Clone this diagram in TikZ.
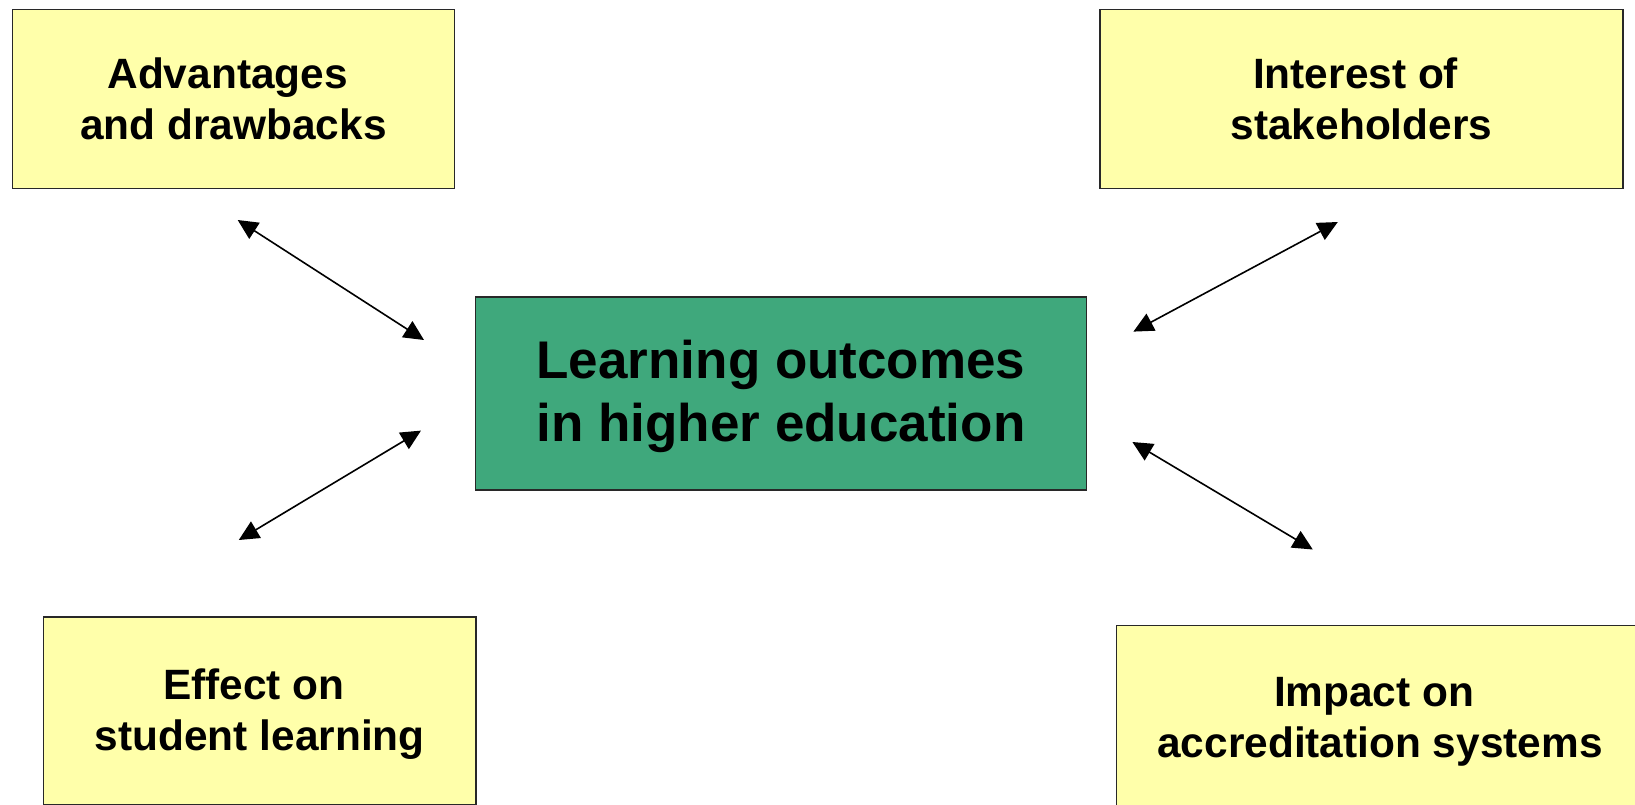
\documentclass[tikz,border=0pt]{standalone}
\usepackage{fontspec}
\setmainfont{Liberation Sans}
\usetikzlibrary{arrows.meta}
\definecolor{boxyellow}{RGB}{255,255,170}
\definecolor{boxgreen}{RGB}{63,168,124}
\definecolor{boxline}{RGB}{40,40,40}
\newcommand{\padtop}[1]{\rule{0pt}{#1}}
\newcommand{\tsp}{\hspace*{0.278em}}
\tikzset{
  sidebox/.style={draw=boxline, line width=1.5pt, fill=boxyellow, rectangle,
    inner sep=0pt, align=center, font=\fontsize{42.4}{51}\selectfont\bfseries},
  mainbox/.style={draw=boxline, line width=1.5pt, fill=boxgreen, rectangle,
    inner sep=0pt, align=center, font=\fontsize{53}{63.5}\selectfont\bfseries},
  link/.style={line width=1.6pt, {Triangle[length=20pt,width=19pt]}-{Triangle[length=20pt,width=19pt]}}
}
\begin{document}
\begin{tikzpicture}[x=1pt,y=-1pt]
\useasboundingbox (0,0) rectangle (1635,804);
\clip (0,0) rectangle (1635,804);
\fill[white] (0,0) rectangle (1635,804);

\node[sidebox, minimum width=442pt, minimum height=179.3pt] (adv) at (233.5,99) {Advantages\tsp\\and drawbacks};
\node[sidebox, minimum width=523pt, minimum height=179.3pt] (int) at (1361.5,99) {Interest of\tsp\\stakeholders};
\node[mainbox, minimum width=611pt, minimum height=193pt] (lo) at (781,393.5) {\padtop{44pt}Learning outcomes\\in higher education};
\node[sidebox, minimum width=432.5pt, minimum height=188pt] (eff) at (259.75,711) {\padtop{36.8pt}Effect on\tsp\\student learning};
\node[sidebox, minimum width=527pt, minimum height=184pt] (imp) at (1380,717.5) {\padtop{36.8pt}Impact on\tsp\\accreditation systems};

\coordinate (advA) at (237.7,220);
\coordinate (advB) at (424,340);
\coordinate (effA) at (238.8,540);
\coordinate (effB) at (421,430.6);
\coordinate (intA) at (1337.8,222);
\coordinate (intB) at (1133.4,331.6);
\coordinate (impA) at (1132.4,442);
\coordinate (impB) at (1312.8,549.5);

\draw[link] (advA) -- (advB);
\draw[link] (effA) -- (effB);
\draw[link] (intA) -- (intB);
\draw[link] (impA) -- (impB);
\end{tikzpicture}
\end{document}
